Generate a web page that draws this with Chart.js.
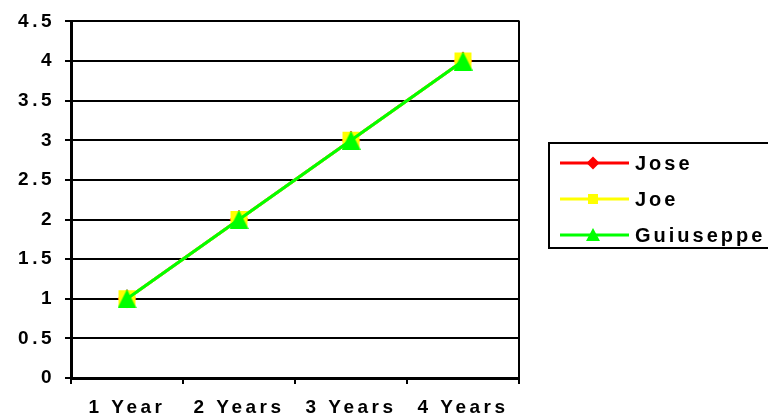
<!DOCTYPE html>
<html>
<head>
<meta charset="utf-8">
<script src="https://cdn.jsdelivr.net/npm/chart.js@4/dist/chart.umd.min.js"></script>
<style>
  html, body { margin: 0; padding: 0; background: #fff; }
  #wrap { width: 768px; height: 417px; }
</style>
</head>
<body>
<div id="wrap"><canvas id="c" width="768" height="417"></canvas></div>
<script>
// Categories and series
const categories = ['1 Year', '2 Years', '3 Years', '4 Years'];
const jose = [1, 2, 3, 4];
const joe = [1, 2, 3, 4];
const guiuseppe = [1, 2, 3, 4];
const seriesNames = ['Jose', 'Joe', 'Guiuseppe'];

// Y axis range
const yMin = 0;
const yMax = 4.5;
const yStep = 0.5;

const FONT = "'Liberation Sans', Arial, Helvetica, sans-serif";

// Triangle marker centred in its own box (apex up, base at bottom)
function triangleImage(w, h, color) {
  const cv = document.createElement('canvas');
  cv.width = w; cv.height = h;
  const g = cv.getContext('2d');
  g.fillStyle = color;
  g.beginPath();
  g.moveTo(w / 2, 0);
  g.lineTo(w, h);
  g.lineTo(0, h);
  g.closePath();
  g.fill();
  return cv;
}

const RED = '#ff0000', YELLOW = '#ffff00', GREEN = '#00ff00';

// Spaced-out lettering for the axis labels
const spacing = {
  id: 'spacing',
  beforeUpdate(chart) { chart.ctx.letterSpacing = '3.5px'; },
  beforeDraw(chart) { chart.ctx.letterSpacing = '3.5px'; }
};

// Right-hand frame line of the plot area
const frame = {
  id: 'frame',
  beforeDatasetsDraw(chart) {
    const { ctx, chartArea: a } = chart;
    ctx.save();
    ctx.strokeStyle = '#000';
    ctx.lineWidth = 2;
    ctx.beginPath();
    ctx.moveTo(a.right, a.top - 1);
    ctx.lineTo(a.right, a.bottom + 6);
    ctx.stroke();
    ctx.restore();
  }
};

// Boxed legend to the right of the plot
const boxLegend = {
  id: 'boxLegend',
  afterDraw(chart) {
    const ctx = chart.ctx;
    const left = 549, top = 143, right = 772, bottom = 248;
    const rows = [163, 199, 235];
    ctx.save();
    ctx.strokeStyle = '#000';
    ctx.lineWidth = 2;
    ctx.strokeRect(left, top, right - left, bottom - top);
    chart.data.datasets.forEach((ds, i) => {
      const y = rows[i];
      ctx.strokeStyle = ds.borderColor;
      ctx.lineWidth = 3;
      ctx.beginPath();
      ctx.moveTo(560, y);
      ctx.lineTo(629, y);
      ctx.stroke();
      const mx = 593;
      ctx.fillStyle = ds.borderColor;
      ctx.beginPath();
      if (i === 0) {
        ctx.moveTo(mx, y - 6.5); ctx.lineTo(mx + 6.5, y);
        ctx.lineTo(mx, y + 6.5); ctx.lineTo(mx - 6.5, y);
      } else if (i === 1) {
        ctx.rect(mx - 5, y - 5, 10, 10);
      } else {
        ctx.moveTo(mx, y - 7); ctx.lineTo(mx + 7, y + 6); ctx.lineTo(mx - 7, y + 6);
      }
      ctx.closePath();
      ctx.fill();
      ctx.letterSpacing = '3px';
      ctx.fillStyle = '#000';
      ctx.font = 'bold 20px ' + FONT;
      ctx.textAlign = 'left';
      ctx.textBaseline = 'middle';
      ctx.fillText(ds.label, 635, y + 1);
    });
    ctx.restore();
  }
};

new Chart(document.getElementById('c'), {
  type: 'line',
  data: {
    labels: categories,
    datasets: [
      {
        label: seriesNames[0], data: jose, order: 3,
        borderColor: RED, backgroundColor: RED, borderWidth: 3,
        pointStyle: 'rectRot', pointRadius: 9.5, pointBorderWidth: 0
      },
      {
        label: seriesNames[1], data: joe, order: 2,
        borderColor: YELLOW, backgroundColor: YELLOW, borderWidth: 3,
        pointStyle: 'rect', pointRadius: 12, pointBorderWidth: 0
      },
      {
        label: seriesNames[2], data: guiuseppe, order: 1,
        borderColor: GREEN, backgroundColor: GREEN, borderWidth: 3,
        pointStyle: triangleImage(19, 19, GREEN), pointRadius: 10, pointBorderWidth: 0
      }
    ]
  },
  options: {
    responsive: false,
    animation: false,
    events: [],
    layout: { padding: { top: 18, right: 249, left: 0, bottom: 0 } },
    plugins: { legend: { display: false }, tooltip: { enabled: false } },
    scales: {
      x: {
        type: 'category',
        offset: true,
        afterFit(scale) { scale.height = 39; },
        grid: {
          display: true, offset: true, drawOnChartArea: false,
          color: '#000', lineWidth: 2, tickLength: 6
        },
        border: { display: true, color: '#000', width: 3 },
        ticks: {
          color: '#000', padding: 12, maxRotation: 0, autoSkip: false,
          font: { family: FONT, size: 19, weight: 'bold' }
        }
      },
      y: {
        min: yMin, max: yMax,
        afterFit(scale) { scale.width = 71; },
        grid: { color: '#000', lineWidth: 2, tickLength: 6 },
        border: { display: true, color: '#000', width: 3 },
        ticks: {
          stepSize: yStep, color: '#000', padding: 10,
          font: { family: FONT, size: 19, weight: 'bold' },
          callback: (v) => String(Number(v))
        }
      }
    }
  },
  plugins: [spacing, frame, boxLegend]
});
</script>
</body>
</html>
